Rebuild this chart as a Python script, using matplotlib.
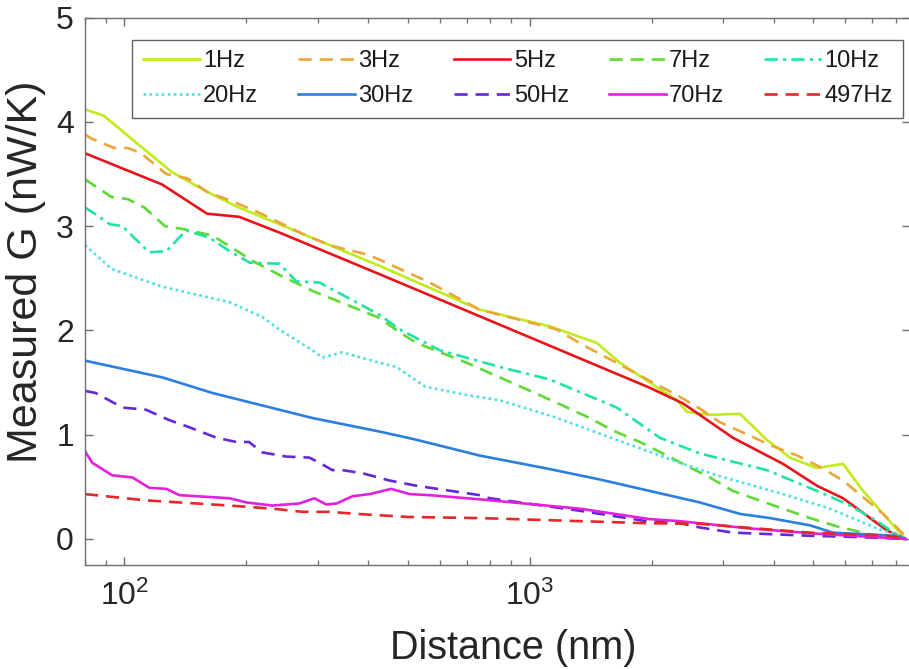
import math
import matplotlib
matplotlib.use("Agg")
import matplotlib.pyplot as plt
from matplotlib.ticker import FixedLocator, NullFormatter, FuncFormatter

plt.rcParams['font.family'] = ['Liberation Sans', 'DejaVu Sans']
plt.rcParams['mathtext.fontset'] = 'custom'
plt.rcParams['mathtext.rm'] = 'Liberation Sans'
plt.rcParams['mathtext.it'] = 'Liberation Sans'

# ---------------- data (distance in nm, G in nW/K) ----------------
labels = ['1Hz', '3Hz', '5Hz', '7Hz', '10Hz', '20Hz', '30Hz', '50Hz', '70Hz', '497Hz']

x_1hz = [80, 89, 111, 131, 160, 189, 426, 752, 1120, 1464, 1668, 1978, 2308, 2442, 2780, 3300,
         3846, 4385, 5100, 5927, 6641, 7441, 8450]
g_1hz = [4.12, 4.06, 3.75, 3.52, 3.33, 3.19, 2.62, 2.20, 2.04, 1.88, 1.69, 1.50, 1.33, 1.22, 1.19, 1.20,
         0.95, 0.78, 0.68, 0.72, 0.46, 0.24, 0.0]

x_3hz = [80, 83, 94.5, 102, 110, 127, 143, 160, 187, 215, 281, 326, 396, 426, 566, 752, 1166, 1352,
         1549, 1766, 2013, 2308, 2627, 2944, 3493, 3914, 4564, 5200, 5927, 6641, 7441, 8337, 8450]
g_3hz = [3.88, 3.84, 3.75, 3.75, 3.70, 3.50, 3.46, 3.33, 3.23, 3.13, 2.91, 2.81, 2.73, 2.68, 2.46, 2.20,
         2.01, 1.86, 1.74, 1.62, 1.50, 1.38, 1.25, 1.12, 0.99, 0.90, 0.80, 0.69, 0.56, 0.40, 0.24, 0.05, 0.0]

x_5hz = [80, 124, 160, 192, 241, 426, 1978, 2387, 2627, 3171, 4214, 5112, 5927, 7612, 8450]
g_5hz = [3.70, 3.40, 3.12, 3.09, 2.94, 2.54, 1.45, 1.30, 1.19, 0.97, 0.72, 0.51, 0.39, 0.08, 0.0]

x_7hz = [80, 93, 102, 112, 126, 141, 165, 211, 245, 291, 426, 478, 526, 699, 843, 1058, 1206, 1406,
         1603, 1869, 2130, 2442, 2780, 3171, 4141, 4914, 5728, 6795, 8450]
g_7hz = [3.45, 3.28, 3.26, 3.18, 3.00, 2.97, 2.91, 2.65, 2.52, 2.38, 2.12, 1.98, 1.88, 1.69, 1.55, 1.38,
         1.28, 1.16, 1.04, 0.93, 0.82, 0.70, 0.59, 0.46, 0.30, 0.20, 0.12, 0.05, 0.0]

x_10hz = [80, 86, 92, 99, 115, 127, 142, 162, 182, 204, 241, 266, 303, 426, 478, 600, 843, 1120,
          1640, 2094, 2627, 3846, 5112, 6168, 7197, 7906, 8450]
g_10hz = [3.18, 3.10, 3.02, 3.00, 2.75, 2.76, 2.96, 2.89, 2.76, 2.65, 2.64, 2.47, 2.46, 2.15, 2.01, 1.81,
          1.65, 1.53, 1.26, 0.97, 0.82, 0.66, 0.46, 0.32, 0.17, 0.06, 0.0]

x_20hz = [80, 93, 124, 182, 219, 241, 291, 308, 345, 426, 469, 553, 700, 843, 1150, 1640, 2094, 2308,
          2895, 4214, 5411, 6168, 7197, 7906, 8450]
g_20hz = [2.82, 2.59, 2.42, 2.27, 2.13, 2.01, 1.81, 1.74, 1.79, 1.69, 1.65, 1.46, 1.38, 1.33, 1.17, 0.95,
          0.80, 0.74, 0.61, 0.43, 0.30, 0.21, 0.10, 0.05, 0.0]

x_30hz = [80, 124, 165, 291, 426, 514, 752, 1120, 1489, 1978, 2627, 3300, 3914, 4914, 5598, 7906, 8450]
g_30hz = [1.71, 1.55, 1.40, 1.16, 1.03, 0.96, 0.80, 0.67, 0.57, 0.46, 0.35, 0.24, 0.20, 0.13, 0.06, 0.03, 0.0]

x_50hz = [80, 85, 99, 113, 129, 145, 169, 189, 203, 219, 251, 286, 303, 326, 345, 387, 451, 526, 752,
          797, 1329, 1945, 2347, 2627, 3171, 3698, 4914, 6168, 8450]
g_50hz = [1.42, 1.40, 1.26, 1.24, 1.14, 1.07, 0.97, 0.93, 0.93, 0.83, 0.79, 0.78, 0.73, 0.66, 0.66, 0.63,
          0.56, 0.51, 0.42, 0.39, 0.27, 0.17, 0.15, 0.11, 0.06, 0.05, 0.03, 0.02, 0.0]

x_70hz = [80, 83.4, 93.4, 104.7, 115.3, 127, 136.7, 165, 182, 200, 232, 270, 294.5, 315, 334, 366, 403,
          455, 506, 566, 752, 908, 1329, 1978, 2347, 3493, 5112, 8450]
g_70hz = [0.84, 0.73, 0.61, 0.59, 0.49, 0.48, 0.42, 0.40, 0.39, 0.35, 0.32, 0.34, 0.39, 0.33, 0.34, 0.41,
          0.43, 0.48, 0.43, 0.42, 0.38, 0.35, 0.29, 0.19, 0.17, 0.10, 0.05, 0.0]

x_497hz = [80, 113, 182, 232, 275, 320, 374, 505, 752, 1978, 2627, 3636, 4914, 5827, 7612, 8450]
g_497hz = [0.43, 0.37, 0.32, 0.29, 0.26, 0.26, 0.24, 0.21, 0.20, 0.15, 0.145, 0.10, 0.06, 0.05, 0.03, 0.0]

yticks = [0, 1, 2, 3, 4, 5]
xmajor = [100, 1000]

# ---------------- styles ----------------
series = [
    (x_1hz, g_1hz, '#c0eb1c', '-', None),
    (x_3hz, g_3hz, '#eba63a', '--', (5, 3)),
    (x_5hz, g_5hz, '#e8141c', '-', None),
    (x_7hz, g_7hz, '#5fd935', '--', (5, 3)),
    (x_10hz, g_10hz, '#1fe3a8', '-.', (5, 2, 1.2, 2)),
    (x_20hz, g_20hz, '#4ddfe6', ':', (1, 1.3)),
    (x_30hz, g_30hz, '#2b7fe0', '-', None),
    (x_50hz, g_50hz, '#6528d6', '--', (5, 3)),
    (x_70hz, g_70hz, '#e420de', '-', None),
    (x_497hz, g_497hz, '#e32828', '--', (5, 3)),
]

fig = plt.figure(figsize=(9.09, 6.69), dpi=100)
ax = fig.add_axes([0.0935, 0.1555, 0.9072, 0.818])

handles = []
for (xs, ys, c, ls, dash), lab in zip(series, labels):
    ln, = ax.plot(xs, ys, color=c, lw=1.9, linestyle=ls, label=lab)
    if dash is not None:
        ln.set_dashes(dash)
    handles.append(ln)

ax.set_xscale('log')
ax.set_xlim(80, 8650)
ax.set_ylim(-0.25, 5)
ax.yaxis.set_major_locator(FixedLocator(yticks))
ax.xaxis.set_major_locator(FixedLocator(xmajor))
minors = [m * 10 ** e for e in (1, 2, 3) for m in range(2, 10)]
ax.xaxis.set_minor_locator(FixedLocator(minors))
ax.xaxis.set_minor_formatter(NullFormatter())
ax.xaxis.set_major_formatter(FuncFormatter(
    lambda v, p: r'$\mathregular{10^{%d}}$' % round(math.log10(v))))

for s in ax.spines.values():
    s.set_color('#6e6e6e')
    s.set_linewidth(1.0)
ax.tick_params(which='both', direction='in', top=True, right=True, colors='#6e6e6e',
               labelcolor='#262626', labelsize=23)
ax.tick_params(which='major', length=6, width=1.0)
ax.tick_params(which='minor', length=3.5, width=0.9)
ax.tick_params(axis='y', pad=8)
ax.tick_params(axis='x', pad=11)

ax.set_xlabel('Distance (nm)', fontsize=28.5, color='#262626')
ax.set_ylabel('Measured G (nW/K)', fontsize=31, color='#262626')
ax.xaxis.set_label_coords(0.519, -0.117)
ax.yaxis.set_label_coords(-0.047, 0.536)

order = [0, 5, 1, 6, 2, 7, 3, 8, 4, 9]
leg = ax.legend([handles[i] for i in order], [labels[i] for i in order],
                ncol=5, loc='upper right', bbox_to_anchor=(0.9925, 0.96),
                borderaxespad=0, fontsize=17, handlelength=2.4, handletextpad=0.15,
                columnspacing=1.7, labelspacing=0.56, frameon=True, fancybox=False,
                borderpad=0.45)
leg.get_frame().set_edgecolor('#3a3a3a')
leg.get_frame().set_linewidth(1.0)
for t in leg.get_texts():
    t.set_color('#1a1a1a')

fig.savefig('out.png', dpi=100)
